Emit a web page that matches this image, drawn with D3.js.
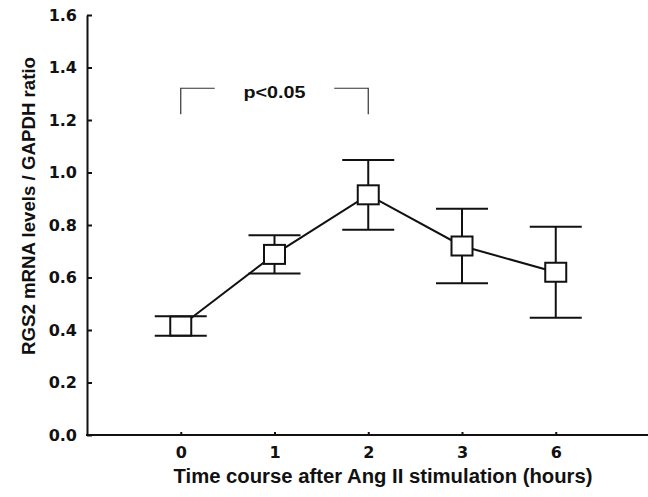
<!DOCTYPE html>
<html>
<head>
<meta charset="utf-8">
<script src="https://cdn.jsdelivr.net/npm/d3@7"></script>
<style>
  html, body { margin: 0; padding: 0; background: #fff; }
  svg { display: block; }
</style>
</head>
<body>
<svg id="chart" width="648" height="497"></svg>
<script>
// ---- data ----
const categories = ["0", "1", "2", "3", "6"];
const means = [0.415, 0.688, 0.915, 0.72, 0.62];
const errors = [0.037, 0.073, 0.133, 0.142, 0.173];
const yTicks = [0, 0.2, 0.4, 0.6, 0.8, 1.0, 1.2, 1.4, 1.6];
const yTickLabels = ["0.0", "0.2", "0.4", "0.6", "0.8", "1.0", "1.2", "1.4", "1.6"];
const bracketFrom = "0";
const bracketTo = "2";
const bracketTop = 1.321;
const bracketBottom = 1.222;
const bracketLabel = "p<0.05";
const xTitle = "Time course after Ang II stimulation (hours)";
const yTitle = "RGS2 mRNA levels / GAPDH ratio";

// ---- layout ----
const svg = d3.select("#chart");
const x0 = 87, x1 = 649.5, yTop = 15, yBot = 435;
const xIdx = d3.scaleLinear().domain([-1, categories.length]).range([x0, x1]);
const x = c => xIdx(categories.indexOf(c));
const y = d3.scaleLinear().domain([0, 1.6]).range([yBot, yTop]);

const tickFont = "'DejaVu Sans', Verdana, sans-serif";
const titleFont = "'Liberation Sans', Arial, sans-serif";

// y axis
const yAxis = d3.axisLeft(y).tickValues(yTicks)
  .tickFormat((d, i) => yTickLabels[i])
  .tickSizeInner(-5).tickSizeOuter(0).tickPadding(10);
const gy = svg.append("g").attr("transform", `translate(${x0},0)`).call(yAxis);
gy.select(".domain").attr("stroke", "#111").attr("stroke-width", 2);
gy.selectAll(".tick line").attr("stroke", "#111").attr("stroke-width", 2);
gy.selectAll(".tick text").attr("fill", "#111")
  .style("font-family", tickFont).style("font-weight", "bold").style("font-size", "16px");

// x axis
const xBand = d3.scalePoint().domain(categories).range([x("0"), x("6")]);
const xAxis = d3.axisBottom(xBand).tickSizeInner(-3).tickSizeOuter(0).tickPadding(12);
const gx = svg.append("g").attr("transform", `translate(0,${yBot})`).call(xAxis);
gx.select(".domain").remove();
gx.append("line").attr("x1", x0 - 1).attr("x2", 648).attr("y1", 0).attr("y2", 0)
  .attr("stroke", "#111").attr("stroke-width", 2);
gx.selectAll(".tick line").attr("stroke", "#111").attr("stroke-width", 2);
gx.selectAll(".tick text").attr("fill", "#111")
  .style("font-family", tickFont).style("font-weight", "bold").style("font-size", "16px");

// titles
svg.append("text").attr("x", 383).attr("y", 483).attr("text-anchor", "middle")
  .attr("fill", "#111")
  .style("font-family", titleFont).style("font-weight", "bold").style("font-size", "20px")
  .attr("textLength", 419).attr("lengthAdjust", "spacingAndGlyphs")
  .text(xTitle);
svg.append("text").attr("transform", "translate(35,206) rotate(-90)")
  .attr("text-anchor", "middle").attr("fill", "#111")
  .style("font-family", titleFont).style("font-weight", "bold").style("font-size", "19px")
  .attr("textLength", 298).attr("lengthAdjust", "spacingAndGlyphs")
  .text(yTitle);

// bracket
const bx0 = x(bracketFrom), bx1 = x(bracketTo), bmid = (bx0 + bx1) / 2;
const bracket = svg.append("g").attr("stroke", "#333").attr("stroke-width", 1.2).attr("fill", "none");
bracket.append("path").attr("d",
  `M${bx0},${y(bracketBottom)} V${y(bracketTop)} H${bx0 + 34}`);
bracket.append("path").attr("d",
  `M${bx1 - 34},${y(bracketTop)} H${bx1} V${y(bracketBottom)}`);
svg.append("text").attr("x", bmid).attr("y", y(bracketTop) + 10).attr("text-anchor", "middle")
  .attr("fill", "#111")
  .style("font-family", titleFont).style("font-weight", "bold").style("font-size", "17px")
  .attr("textLength", 62).attr("lengthAdjust", "spacingAndGlyphs")
  .text(bracketLabel);

// data
const data = categories.map((c, i) => ({ c, m: means[i], e: errors[i] }));
const capW = 26;

// connecting line
svg.append("path").datum(data)
  .attr("d", d3.line().x(d => x(d.c)).y(d => y(d.m)))
  .attr("fill", "none").attr("stroke", "#111").attr("stroke-width", 2);

// error bars
const eb = svg.append("g").attr("stroke", "#111").attr("stroke-width", 2);
data.forEach(d => {
  eb.append("line").attr("x1", x(d.c)).attr("x2", x(d.c))
    .attr("y1", y(d.m + d.e)).attr("y2", y(d.m - d.e));
  eb.append("line").attr("x1", x(d.c) - capW).attr("x2", x(d.c) + capW)
    .attr("y1", y(d.m + d.e)).attr("y2", y(d.m + d.e));
  eb.append("line").attr("x1", x(d.c) - capW).attr("x2", x(d.c) + capW)
    .attr("y1", y(d.m - d.e)).attr("y2", y(d.m - d.e));
});

// square markers
svg.append("g").selectAll("rect").data(data).join("rect")
  .attr("x", d => x(d.c) - 10.5).attr("y", d => y(d.m) - 9.5)
  .attr("width", 21).attr("height", 19)
  .attr("fill", "#fff").attr("stroke", "#111").attr("stroke-width", 2);
</script>
</body>
</html>
